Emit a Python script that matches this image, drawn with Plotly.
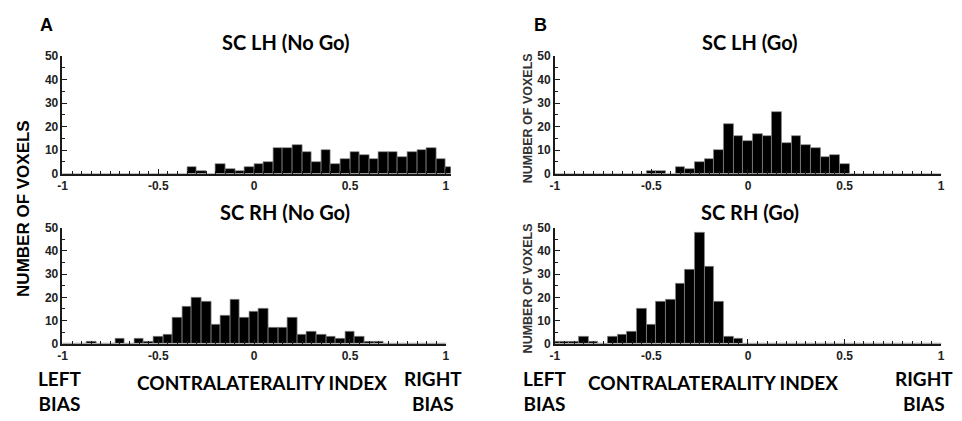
import plotly.graph_objects as go

W, H = 962, 421

# ---------------- data ----------------
# bin centres (bin width 0.05)
centers_edge = [round(-0.975 + 0.05 * i, 3) for i in range(41)]   # top-left panel (edge aligned bins)
centers = [round(-1.0 + 0.05 * i, 3) for i in range(41)]           # other panels

lh_nogo = [0, 0, 0, 0, 0, 0, 0, 0, 0, 0, 0, 0, 0,
           3, 1, 0, 4, 2, 1, 3,
           4, 5, 11, 11, 12, 9, 5, 10, 4, 6, 9, 8, 6, 9, 9, 7, 9, 10, 11, 6,
           3]
rh_nogo = [0, 0, 0, 1, 0, 0, 2, 0, 2, 1, 3, 4, 11, 16, 20, 18, 8, 12, 19, 11,
           14, 15, 7, 7, 11, 4, 5, 4, 3, 2, 5, 3, 1, 1,
           0, 0, 0, 0, 0, 0, 0]
lh_go = [0, 0, 0, 0, 0, 0, 0, 0, 0, 0,
         1, 1, 0, 3, 2, 5, 6, 10, 21, 16, 14, 17, 16, 26, 13, 16, 12, 11, 7, 8, 4,
         0, 0, 0, 0, 0, 0, 0, 0, 0, 0]
rh_go = [1, 1, 1, 3, 1, 0, 3, 4, 5, 15, 8, 18, 19, 26, 32, 48, 33, 18, 3, 2,
         0, 0, 0, 0, 0, 0, 0, 0, 0, 0, 0, 0, 0, 0, 0, 0, 0, 0, 0, 0, 0]

titles = ["SC LH (No Go)", "SC RH (No Go)", "SC LH (Go)", "SC RH (Go)"]
xtick_vals = [-1, -0.5, 0, 0.5, 1]
xtick_text = ["-1", "-0.5", "0", "0.5", "1"]
ytick_vals = [0, 10, 20, 30, 40, 50]

# ---------------- layout helpers ----------------
def px(x):
    return x / W

def py(y):
    return 1 - y / H

LX0, LX1 = 58, 445
RX0, RX1 = 555, 945
TOP = [py(172.3), py(50.7)]
BOT = [py(348.3), py(228.3)]

axis_col = "#1a1a1a"
tickfont = dict(family="Liberation Sans", size=12, color="#222222", weight="bold")

fig = go.Figure()

panels = [
    (centers_edge, lh_nogo, "x", "y"),
    (centers, rh_nogo, "x2", "y2"),
    (centers, lh_go, "x3", "y3"),
    (centers, rh_go, "x4", "y4"),
]
for xs, ys, xa, ya in panels:
    fig.add_trace(go.Bar(
        x=xs, y=ys, width=0.05, xaxis=xa, yaxis=ya,
        marker=dict(color="black", line=dict(color="#8a8a8a", width=0.7)),
        showlegend=False, hoverinfo="x+y",
    ))

def xaxis(domain, anchor, rng):
    return dict(
        domain=domain, anchor=anchor, range=rng,
        showgrid=False, zeroline=False, showline=True,
        linecolor=axis_col, linewidth=1.6,
        tickmode="array", tickvals=xtick_vals, ticktext=xtick_text,
        ticks="inside", ticklen=5, tickwidth=1.2, tickcolor=axis_col,
        minor=dict(dtick=0.05, tick0=0, ticks="inside", ticklen=3,
                   tickwidth=1, tickcolor=axis_col, showgrid=False),
        tickfont=tickfont, fixedrange=True,
    )

def yaxis(domain, anchor):
    return dict(
        domain=domain, anchor=anchor, range=[0, 50],
        showgrid=False, zeroline=False, showline=True,
        linecolor=axis_col, linewidth=1.6,
        tickmode="array", tickvals=ytick_vals,
        ticks="inside", ticklen=5, tickwidth=1.2, tickcolor=axis_col,
        minor=dict(dtick=5, tick0=0, ticks="inside", ticklen=3,
                   tickwidth=1, tickcolor=axis_col, showgrid=False),
        tickfont=tickfont, fixedrange=True,
    )

ext = (LX1 - LX0) * 0.0125
fig.update_layout(
    width=W, height=H,
    margin=dict(l=0, r=0, t=0, b=0),
    paper_bgcolor="white", plot_bgcolor="white",
    bargap=0,
    xaxis=xaxis([px(LX0), px(LX1 + ext)], "y", [-1, 1.025]),
    yaxis=yaxis(TOP, "x"),
    xaxis2=xaxis([px(LX0), px(LX1)], "y2", [-1, 1]),
    yaxis2=yaxis(BOT, "x2"),
    xaxis3=xaxis([px(RX0), px(RX1)], "y3", [-1, 1]),
    yaxis3=yaxis(TOP, "x3"),
    xaxis4=xaxis([px(RX0), px(RX1)], "y4", [-1, 1]),
    yaxis4=yaxis(BOT, "x4"),
)

title_font = dict(family="Lato", size=20, color="black", weight="bold")
label_font = dict(family="Lato", size=19, color="black", weight="bold")

ann = []
def add(text, x, y, font, angle=0, xanchor="center"):
    ann.append(dict(text=text, x=px(x), y=py(y), xref="paper", yref="paper",
                    showarrow=False, font=font, textangle=angle,
                    xanchor=xanchor, yanchor="middle"))

# panel letters
add("A", 42, 19, dict(family="Liberation Sans", size=18, color="black", weight="bold"))
add("B", 541, 19, dict(family="Liberation Sans", size=18, color="black", weight="bold"))
# titles
add(titles[0], 283, 36, title_font)
add(titles[1], 283, 212, title_font)
add(titles[2], 752, 36, title_font)
add(titles[3], 752, 212, title_font)
# y labels
add("NUMBER OF VOXELS", 18, 208, dict(family="Liberation Sans", size=17, color="black", weight="bold"), angle=-90)
add("NUMBER OF VOXELS", 528, 115, dict(family="Liberation Sans", size=12.5, color="#333333", weight="bold"), angle=-90)
add("NUMBER OF VOXELS", 528, 291, dict(family="Liberation Sans", size=12.5, color="#333333", weight="bold"), angle=-90)
# bottom labels
for cx_left, cx_mid, cx_right in [(56, 259, 432), (545, 715, 928)]:
    add("LEFT<br>BIAS", cx_left, 397, label_font)
    add("CONTRALATERALITY INDEX", cx_mid, 388, label_font)
    add("RIGHT<br>BIAS", cx_right, 397, label_font)

fig.update_layout(annotations=ann)
fig.write_html("out.html")
